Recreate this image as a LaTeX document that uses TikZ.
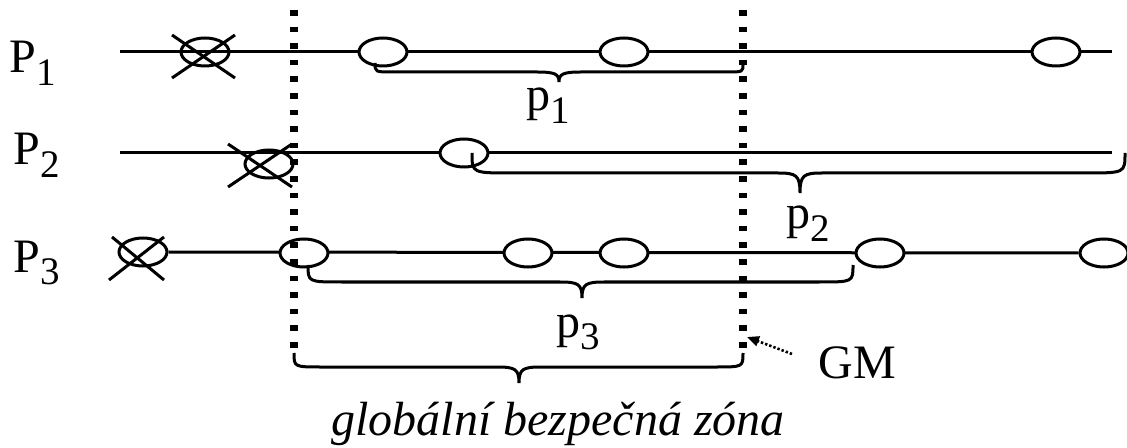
\documentclass[tikz,border=0pt]{standalone}
\usepackage{fontspec}
\setmainfont{Liberation Serif}
\usepackage{tikz}
\usetikzlibrary{arrows.meta,shapes.geometric}
\newcommand{\lowsub}[1]{\raisebox{-0.26em}{\fontsize{19.5}{19.5}\selectfont #1}}
% brace: start x,y / tip x / bar y / tip y / end x,y
\newcommand{\zonebrace}[7]{%
  \draw[brc] (#1,#2) .. controls (#1,#4) .. ({#1+2*(#4-#2)},#4)
    -- (#3-22,#4) .. controls (#3-4,#4) and (#3,#4+2) .. (#3,#5)
    .. controls (#3,#4+2) and (#3+4,#4) .. (#3+22,#4)
    -- ({#6-2*(#4-#7)},#4) .. controls (#6,#4) .. (#6,#7);}

\begin{document}
\begin{tikzpicture}[x=0.5pt,y=-0.5pt,line width=1.5pt,
ev/.style={ellipse,draw,fill=white,inner sep=0pt,minimum width=24pt,minimum height=14pt},
xev/.style={ellipse,draw,inner sep=0pt,minimum width=24pt,minimum height=14pt},
lbl/.style={inner sep=0pt,anchor=base west,font=\fontsize{24}{28}\selectfont},
brc/.style={line width=1.5pt},
gz/.style={line width=3.6pt,dash pattern=on 2.8pt off 5.5pt},
gm/.style={line width=1.3pt,dash pattern=on 1.2pt off 1pt,-{Triangle[length=6pt,width=5pt]}}]
\useasboundingbox (0,0) rectangle (1127,448);
% process labels
\node[lbl] (P1) at (8,73) {P\lowsub{1}};
\node[lbl] (P2) at (12,165) {P\lowsub{2}};
\node[lbl] (P3) at (12,272) {P\lowsub{3}};
% time lines
\coordinate (a1) at (120,52); \coordinate (b1) at (1112,52);
\coordinate (a2) at (120,153); \coordinate (b2) at (1112,153);
\draw (a1) -- (b1);
\draw (a2) -- (b2);
% checkpoints
\node[xev] (x1) at (205,52) {};
\node[ev] (e11) at (383,52) {};
\node[ev] (e12) at (624,52) {};
\node[ev] (e13) at (1056,52) {};
\node[xev] (x2) at (269,164) {};
\node[ev] (e21) at (464,153) {};
\node[xev] (x3) at (143,252) {};
\node[ev] (e35) at (1104,253) {};
\draw (x3.east) -- (e35.west);
\node[ev] (e31) at (304,253) {};
\node[ev] (e32) at (528,253) {};
\node[ev] (e33) at (624,253) {};
\node[ev] (e34) at (880,253) {};
% crossed out
\draw ([shift={(-33,-17)}]x1.center) -- ([shift={(30,26)}]x1.center);
\draw ([shift={(-33,26)}]x1.center) -- ([shift={(30,-17)}]x1.center);
\draw ([shift={(-41,-20)}]x2.center) -- ([shift={(23,23)}]x2.center);
\draw ([shift={(-41,23)}]x2.center) -- ([shift={(23,-20)}]x2.center);
\draw ([shift={(-34,28)}]x3.center) -- ([shift={(21,-15)}]x3.center);
\draw ([shift={(-31,-15)}]x3.center) -- ([shift={(21,28)}]x3.center);
% braces
\zonebrace{375}{63}{559}{72}{82}{743}{64}
\zonebrace{472}{153}{800}{173}{193}{1125}{153}
\zonebrace{308}{265}{582}{282}{298}{853}{265}
\zonebrace{294}{353}{519}{367}{383}{743}{353}
\node[lbl] (p1) at (525,111) {p\lowsub{1}};
\node[lbl] (p2) at (785,229) {p\lowsub{2}};
\node[lbl] (p3) at (555,337) {p\lowsub{3}};
% zone borders
\coordinate (gtop1) at (294,10); \coordinate (gbot1) at (294,352);
\coordinate (gtop2) at (743,10); \coordinate (gbot2) at (743,352);
\draw[gz] (gtop1) -- (gbot1);
\draw[gz] (gtop2) -- (gbot2);
\node[lbl] (gm) at (817,378) {GM};
\coordinate (gmtail) at (792,354); \coordinate (gmhit) at (747,337);
\draw[gm] (gmtail) -- (gmhit);
\node[lbl,font=\fontsize{24}{28}\selectfont\itshape] (zone) at (330,435) {globální bezpečná zóna};
\end{tikzpicture}
\end{document}
